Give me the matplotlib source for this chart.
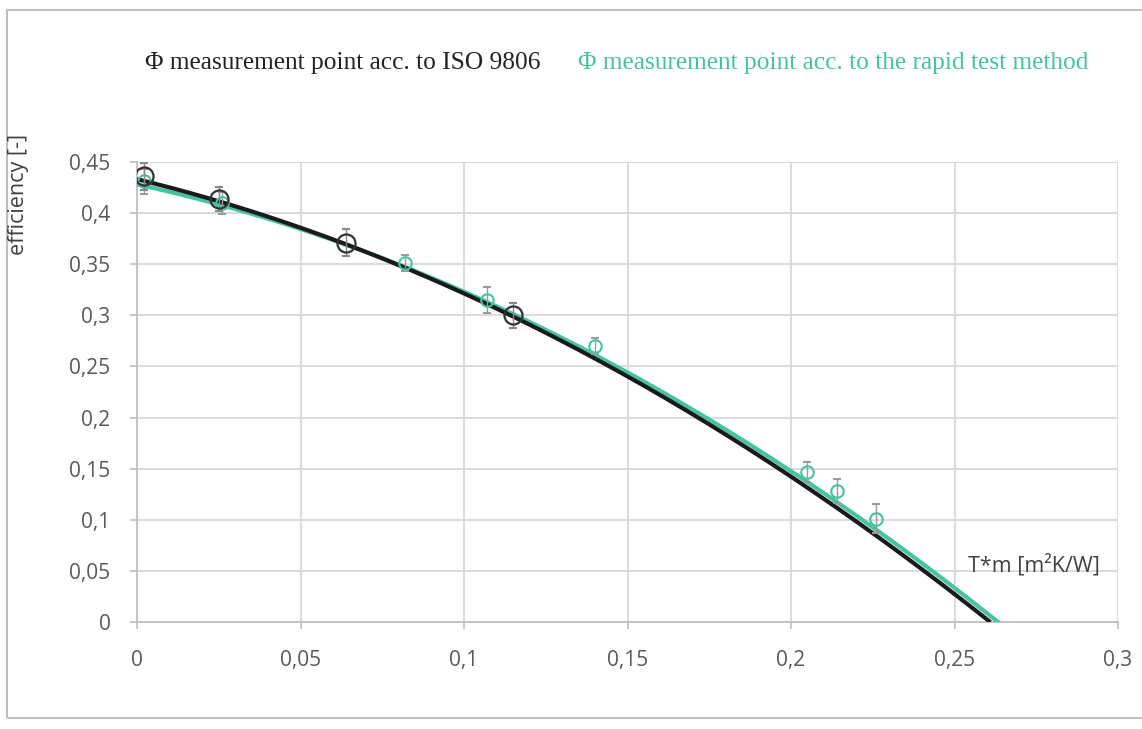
import numpy as np
import matplotlib
matplotlib.use('Agg')
import matplotlib.pyplot as plt
from matplotlib.patches import Rectangle
from matplotlib.ticker import FuncFormatter, MultipleLocator

# ========== DANE ==========

# punkty pomiarowe wg ISO 9806 (czarne)
iso_x = [0.002, 0.025, 0.064, 0.115]
iso_y = [0.436, 0.414, 0.371, 0.300]
iso_err = [0.013, 0.012, 0.013, 0.012]

# punkty pomiarowe metoda szybkiego testu (turkusowe)
rapid_x = [0.002, 0.026, 0.082, 0.107, 0.140, 0.205, 0.214, 0.226]
rapid_y = [0.431, 0.410, 0.351, 0.315, 0.270, 0.147, 0.128, 0.101]
rapid_err = [0.012, 0.011, 0.008, 0.013, 0.008, 0.010, 0.012, 0.014]

# odczyty krzywych trendu z wykresu
iso_curve_x = [0.0, 0.05, 0.10, 0.15, 0.20, 0.25, 0.261]
iso_curve_y = [0.436, 0.381, 0.320, 0.245, 0.142, 0.026, 0.0]
rapid_curve_x = [0.0, 0.05, 0.10, 0.15, 0.20, 0.25, 0.264]
rapid_curve_y = [0.430, 0.381, 0.322, 0.249, 0.146, 0.031, 0.0]

BLACK = '#1a1a1a'
TEAL = '#45c4a2'
GRID = '#d9d9d9'
TICK = '#595959'

# ========== WYKRES ==========

fig = plt.figure(figsize=(11.42, 7.29), dpi=100)
fig.patches.append(Rectangle((7 / 1142, 11 / 729), 1.0, 708 / 729,
                             transform=fig.transFigure, fill=False,
                             edgecolor='#bfbfbf', linewidth=1.5))

ax = fig.add_axes([137 / 1142, 107 / 729, 981 / 1142, 460 / 729])

# krzywe trendu (wielomian 2 stopnia jak w Excelu)
xs = np.linspace(0, rapid_curve_x[-1], 200)
p_rapid = np.polyfit(rapid_curve_x, rapid_curve_y, 2)
ax.plot(xs, np.polyval(p_rapid, xs), color=TEAL, lw=3, zorder=3, solid_capstyle='butt')
xs = np.linspace(0, iso_curve_x[-1], 200)
p_iso = np.polyfit(iso_curve_x, iso_curve_y, 2)
ax.plot(xs, np.polyval(p_iso, xs), color=BLACK, lw=3, zorder=4, solid_capstyle='butt')

ax.errorbar(rapid_x, rapid_y, yerr=rapid_err, fmt='o', ms=9, mfc='none',
            mec=TEAL, mew=1.5, ecolor='#9a9a9a', elinewidth=1, capsize=3, zorder=5)
ax.errorbar(iso_x, iso_y, yerr=iso_err, fmt='o', ms=13, mfc='none',
            mec='#333333', mew=1.6, ecolor='#8a8a8a', elinewidth=1, capsize=3, zorder=6)

ax.set_xlim(0, 0.3)
ax.set_ylim(0, 0.45)
ax.xaxis.set_major_locator(MultipleLocator(0.05))
ax.yaxis.set_major_locator(MultipleLocator(0.05))
fmt = FuncFormatter(lambda v, p: '0' if abs(v) < 1e-9 else f'{v:.2f}'.rstrip('0').replace('.', ','))
ax.xaxis.set_major_formatter(fmt)
ax.yaxis.set_major_formatter(fmt)
ax.grid(True, color=GRID, lw=1.3)
ax.set_axisbelow(True)
for s in ['top', 'right']:
    ax.spines[s].set_visible(False)
for s in ['left', 'bottom']:
    ax.spines[s].set_color('#bfbfbf')
    ax.spines[s].set_linewidth(1.3)
ax.tick_params(axis='both', colors='#bfbfbf', labelcolor=TICK, labelsize=15, length=5, width=1.2)
ax.tick_params(axis='x', pad=15)
ax.tick_params(axis='y', pad=14)
for lab in ax.get_xticklabels() + ax.get_yticklabels():
    lab.set_fontfamily('Open Sans')

# etykiety osi
fig.text(19 / 1142, 1 - 194 / 729, 'efficiency [-]', rotation=90, ha='center', va='center',
         fontsize=15.5, color='#404040', family='Open Sans')
ax.text(0.2945, 0.056, 'T*m [m²K/W]', ha='right', va='center', fontsize=15.5,
        color='#404040', family='Open Sans')

# legenda
fig.text(145 / 1142, 1 - 63 / 729, 'Φ measurement point acc. to ISO 9806', ha='left', va='center',
         fontsize=18.3, color='#222222', family='Liberation Serif')
fig.text(578 / 1142, 1 - 63 / 729, 'Φ measurement point acc. to the rapid test method', ha='left',
         va='center', fontsize=18.3, color=TEAL, family='Liberation Serif')

fig.savefig('out.png', dpi=100, facecolor='white')
